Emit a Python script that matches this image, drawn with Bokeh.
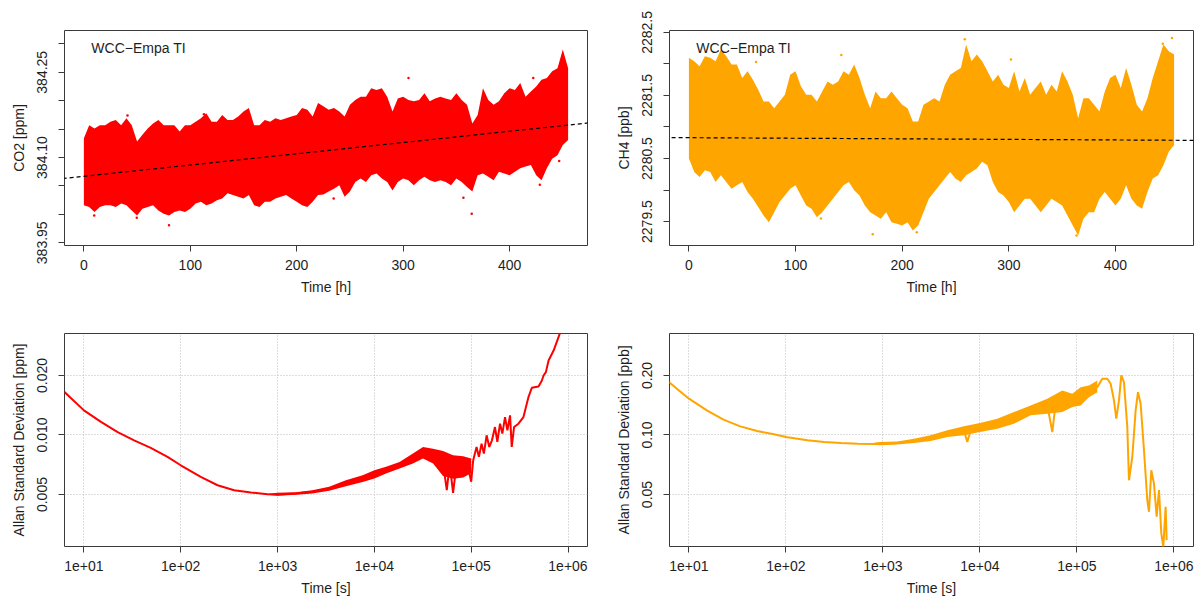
from bokeh.plotting import figure
from bokeh.models import Range1d, FixedTicker, Slope, Label
from bokeh.layouts import row, column
from bokeh.embed import file_html
from bokeh.resources import INLINE

# ---------------- data ----------------
hours = [0, 5, 10, 15, 20, 25, 30, 35, 40, 45, 50, 55, 60, 65, 70, 75, 80, 85, 90, 95,
         100, 105, 110, 115, 120, 125, 130, 135, 140, 145, 150, 155, 160, 165, 170, 175,
         180, 185, 190, 195, 200, 205, 210, 215, 220, 225, 230, 235, 240, 245, 250, 255,
         260, 265, 270, 275, 280, 285, 290, 295, 300, 305, 310, 315, 320, 325, 330, 335,
         340, 345, 350, 355, 360, 365, 370, 375, 380, 385, 390, 395, 400, 405, 410, 415,
         420, 425, 430, 435, 440, 445, 450, 455]

# CO2 [ppm]: upper / lower envelope of the dense point cloud
co2_upper = [384.134, 384.157, 384.151, 384.157, 384.157, 384.163, 384.166, 384.157, 384.169, 384.157,
             384.128, 384.140, 384.151, 384.160, 384.166, 384.157, 384.157, 384.157, 384.146, 384.157,
             384.157, 384.163, 384.169, 384.178, 384.163, 384.163, 384.175, 384.166, 384.166, 384.172,
             384.181, 384.187, 384.157, 384.157, 384.166, 384.163, 384.169, 384.166, 384.169, 384.172,
             384.175, 384.187, 384.184, 384.172, 384.196, 384.190, 384.184, 384.187, 384.181, 384.172,
             384.193, 384.201, 384.207, 384.207, 384.222, 384.219, 384.222, 384.207, 384.181, 384.204,
             384.207, 384.201, 384.199, 384.201, 384.213, 384.199, 384.204, 384.207, 384.204, 384.201,
             384.213, 384.201, 384.193, 384.160, 384.175, 384.222, 384.201, 384.193, 384.199, 384.213,
             384.222, 384.219, 384.231, 384.207, 384.216, 384.225, 384.237, 384.240, 384.252, 384.257,
             384.290, 384.257]
co2_lower = [384.016, 384.013, 384.004, 384.013, 384.016, 384.016, 384.013, 384.019, 384.016, 384.007,
             383.998, 384.010, 384.013, 384.016, 384.007, 384.001, 383.998, 384.004, 384.007, 384.004,
             384.010, 384.019, 384.022, 384.016, 384.019, 384.025, 384.028, 384.037, 384.034, 384.031,
             384.028, 384.034, 384.016, 384.013, 384.022, 384.022, 384.028, 384.031, 384.034, 384.028,
             384.022, 384.016, 384.013, 384.022, 384.034, 384.035, 384.040, 384.045, 384.051, 384.031,
             384.040, 384.057, 384.063, 384.057, 384.069, 384.072, 384.063, 384.057, 384.042, 384.057,
             384.063, 384.060, 384.051, 384.060, 384.066, 384.060, 384.057, 384.060, 384.057, 384.051,
             384.063, 384.057, 384.048, 384.040, 384.069, 384.072, 384.066, 384.060, 384.075, 384.072,
             384.069, 384.075, 384.081, 384.084, 384.087, 384.069, 384.060, 384.081, 384.098, 384.104,
             384.122, 384.131]
co2_out_t = [9.7, 49.7, 80.0, 41.0, 112.8, 234.7, 305.0, 356.6, 364.4, 422.2, 428.4, 446.6]
co2_out_v = [383.998, 383.994, 383.981, 384.174, 384.176, 384.028, 384.240, 384.029, 384.001, 384.240,
             384.052, 384.094]
co2_trend_intercept = 384.067   # ppm at t = 0
co2_trend_slope = 0.000198      # ppm per hour

# CH4 [ppb]
ch4_upper = [2282.096, 2282.043, 2281.963, 2282.122, 2282.096, 2282.043, 2282.229, 2282.122, 2281.989, 2281.989,
             2281.777, 2281.883, 2281.750, 2281.590, 2281.404, 2281.404, 2281.298, 2281.404, 2281.511, 2281.830,
             2281.883, 2281.644, 2281.511, 2281.511, 2281.404, 2281.564, 2281.723, 2281.670, 2281.723, 2281.883,
             2281.830, 2281.989, 2281.777, 2281.511, 2281.298, 2281.564, 2281.457, 2281.457, 2281.564, 2281.457,
             2281.351, 2281.298, 2281.085, 2281.085, 2281.351, 2281.404, 2281.457, 2281.404, 2281.670, 2281.830,
             2281.883, 2281.936, 2282.309, 2282.043, 2282.149, 2282.043, 2281.883, 2281.723, 2281.830, 2281.670,
             2281.617, 2281.883, 2281.564, 2281.777, 2281.511, 2281.617, 2281.723, 2281.511, 2281.670, 2281.564,
             2281.883, 2281.723, 2281.511, 2281.138, 2281.457, 2281.457, 2281.351, 2281.245, 2281.564, 2281.777,
             2281.830, 2281.617, 2281.936, 2281.670, 2281.351, 2281.245, 2281.457, 2281.777, 2282.043, 2282.309,
             2282.202, 2282.149]
ch4_lower = [2280.500, 2280.287, 2280.207, 2280.314, 2280.287, 2280.128, 2280.234, 2280.128, 2280.021, 2280.074,
             2280.128, 2279.968, 2279.862, 2279.729, 2279.596, 2279.489, 2279.649, 2279.809, 2279.915, 2280.021,
             2280.074, 2279.915, 2279.755, 2279.702, 2279.569, 2279.649, 2279.755, 2279.862, 2279.968, 2280.074,
             2280.128, 2279.995, 2279.915, 2279.755, 2279.649, 2279.596, 2279.543, 2279.649, 2279.489, 2279.463,
             2279.436, 2279.489, 2279.356, 2279.436, 2279.649, 2279.862, 2279.968, 2280.074, 2280.181, 2280.287,
             2280.181, 2280.128, 2280.234, 2280.287, 2280.340, 2280.447, 2280.394, 2280.128, 2279.968, 2279.915,
             2279.809, 2279.649, 2279.755, 2279.862, 2279.862, 2279.755, 2279.649, 2279.755, 2279.862, 2279.809,
             2279.755, 2279.596, 2279.436, 2279.277, 2279.543, 2279.649, 2279.649, 2279.862, 2279.968, 2279.862,
             2279.755, 2279.862, 2280.074, 2279.862, 2279.755, 2279.702, 2279.968, 2280.181, 2280.234, 2280.394,
             2280.606, 2280.713]
ch4_out_t = [62.9, 123.8, 142.9, 172.4, 213.7, 258.7, 302.0, 363.5, 444.4, 453.0]
ch4_out_v = [2282.03, 2279.55, 2282.14, 2279.30, 2279.33, 2282.39, 2282.07, 2279.28, 2282.32, 2282.41]
ch4_trend_intercept = 2280.83   # ppb at t = 0
ch4_trend_slope = -0.00009      # ppb per hour

# Allan standard deviation, CO2 [ppm] vs averaging time [s]
co2_tau = [6.3, 10, 15, 22.3, 33, 49, 73, 100, 161, 240, 356, 531, 789, 1000, 1540, 2290, 3410, 5080,
           7570, 10000, 13200, 18200, 25000, 31800, 36000, 40400, 46000, 51200, 56000, 60000, 65000,
           70000, 76000, 82600, 90000, 100000, 104900, 113600, 120100, 128000, 135300, 144300, 153800,
           163900, 176100, 186200, 198500, 209800, 223700, 236500, 252000, 262300, 277300, 307600,
           346700, 390600, 423000, 496100, 537200, 559000, 590900, 630100, 710000, 832500]
co2_adev = [0.01648, 0.01332, 0.01164, 0.01035, 0.0094, 0.0086, 0.00775, 0.00703, 0.00614, 0.00557,
            0.00526, 0.00512, 0.00502, 0.00500, 0.00506, 0.00516, 0.00536, 0.00568, 0.00602, 0.00633,
            0.00663, 0.00703, 0.00760, 0.00821, 0.00820, 0.00790, 0.00745, 0.00717, 0.00526, 0.00717,
            0.00510, 0.00690, 0.00703, 0.00663, 0.00745, 0.00580, 0.00745, 0.00870, 0.00775, 0.00904,
            0.00805, 0.00996, 0.00870, 0.00940, 0.01097, 0.00922, 0.01141, 0.01016, 0.01232, 0.01056,
            0.01257, 0.00870, 0.01097, 0.01141, 0.01232, 0.01555, 0.01733, 0.01760, 0.01887, 0.02000,
            0.02079, 0.02380, 0.02673, 0.03308]
co2_band_tau = [789, 1000, 1540, 2290, 3410, 5080, 7570, 10000, 13200, 18200, 25000, 31800, 40400,
                51200, 65000, 82600, 100000]
co2_band_hi = [0.00505, 0.00510, 0.00514, 0.00526, 0.00547, 0.00590, 0.00625, 0.00663, 0.00690,
               0.00731, 0.00805, 0.00870, 0.00853, 0.00830, 0.00790, 0.00780, 0.00760]
co2_band_lo = [0.00498, 0.00493, 0.00498, 0.00506, 0.00522, 0.00551, 0.00579, 0.00602, 0.00638,
               0.00676, 0.00717, 0.00760, 0.00717, 0.00620, 0.00600, 0.00610, 0.00640]

# Allan standard deviation, CH4 [ppb]
ch4_tau = [6.2, 10, 15.3, 22.7, 33.8, 50.4, 75.1, 100, 166.5, 248, 369, 550, 819, 946, 1405, 2088,
           3100, 4605, 6839, 7400, 8000, 10000, 15090, 22410, 33300, 49450, 55700, 60000, 70620,
           89530, 109100, 132900, 162000, 182500, 205500, 222400, 240700, 254400, 271000, 286400,
           305100, 330300, 343600, 371900, 402600, 425600, 453400, 490700, 530900, 552600, 583900,
           622200, 662900, 700600, 740400, 776200, 820600, 840400]
ch4_adev = [0.1851, 0.1526, 0.1331, 0.1195, 0.1106, 0.1047, 0.1008, 0.0977, 0.0940, 0.0922, 0.0911,
            0.0904, 0.0901, 0.0904, 0.0911, 0.0933, 0.0958, 0.1016, 0.1056, 0.0922, 0.1050, 0.1097,
            0.1140, 0.1232, 0.1331, 0.1411, 0.1035, 0.1420, 0.1496, 0.1496, 0.1554, 0.1647, 0.1746,
            0.1924, 0.1924, 0.1815, 0.1496, 0.1209, 0.1496, 0.2000, 0.1851, 0.1097, 0.0590, 0.0774,
            0.1331, 0.1647, 0.1439, 0.0837, 0.0468, 0.0409, 0.0663, 0.0568, 0.0386, 0.0526, 0.0318,
            0.0272, 0.0433, 0.0294]
ch4_band_tau = [819, 946, 1405, 2088, 3100, 4605, 6839, 10000, 15090, 22410, 33300, 49450, 70620,
                89530, 109100, 132900, 162000]
ch4_band_hi = [0.0915, 0.0922, 0.0926, 0.0958, 0.0996, 0.1056, 0.1106, 0.1149, 0.1209, 0.1306,
               0.1411, 0.1526, 0.1680, 0.1616, 0.1746, 0.1780, 0.1887]
ch4_band_lo = [0.0890, 0.0887, 0.0894, 0.0911, 0.0933, 0.0977, 0.0996, 0.1035, 0.1076, 0.1140,
               0.1257, 0.1281, 0.1306, 0.1384, 0.1411, 0.1554, 0.1647]

# axis ticks
hour_ticks = [0, 100, 200, 300, 400]
co2_yticks = [383.95, 384.00, 384.05, 384.10, 384.15, 384.20, 384.25, 384.30]
co2_ylabels = ["383.95", "", "", "384.10", "", "", "384.25", ""]
ch4_yticks = [2279.5, 2280.0, 2280.5, 2281.0, 2281.5, 2282.0, 2282.5]
ch4_ylabels = ["2279.5", "", "2280.5", "", "2281.5", "", "2282.5"]
tau_ticks = [10, 100, 1000, 10000, 100000, 1000000]
tau_labels = ["1e+01", "1e+02", "1e+03", "1e+04", "1e+05", "1e+06"]
co2_adev_ticks = [0.005, 0.010, 0.020]
co2_adev_labels = ["0.005", "0.010", "0.020"]
ch4_adev_ticks = [0.05, 0.10, 0.20]
ch4_adev_labels = ["0.05", "0.10", "0.20"]

RED = "#ff0000"
ORANGE = "#ffa500"
FONT = "Liberation Sans"
TXT = "#1e1e1e"
FS = "14px"


def style(p, xlab, ylab, xt, xl, yt, yl):
    p.outline_line_color = "#3a3a3a"
    p.outline_line_width = 1
    p.background_fill_color = "white"
    p.border_fill_color = "white"
    for ax in (p.xaxis[0], p.yaxis[0]):
        ax.axis_line_color = None
        ax.major_tick_line_color = "#3a3a3a"
        ax.major_tick_out = 6
        ax.major_tick_in = 0
        ax.minor_tick_line_color = None
        ax.major_label_text_font = FONT
        ax.major_label_text_font_size = FS
        ax.major_label_text_color = TXT
        ax.axis_label_text_font = FONT
        ax.axis_label_text_font_size = FS
        ax.axis_label_text_font_style = "normal"
        ax.axis_label_text_color = TXT
    xa, ya = p.xaxis[0], p.yaxis[0]
    xa.axis_label = xlab
    ya.axis_label = ylab
    xa.ticker = FixedTicker(ticks=xt)
    xa.major_label_overrides = {t: s for t, s in zip(xt, xl)}
    ya.ticker = FixedTicker(ticks=yt)
    ya.major_label_overrides = {t: s for t, s in zip(yt, yl)}
    ya.major_label_orientation = "vertical"
    xa.major_label_standoff = 8
    xa.axis_label_standoff = 6
    ya.major_label_standoff = 11
    ya.axis_label_standoff = 8


def top_panel(upper, lower, out_t, out_v, color, yr, ylab, yt, yl, icpt, slope, lab_y, w, bl, br):
    p = figure(width=w, height=315, x_range=Range1d(-18.2, 473.2), y_range=Range1d(*yr),
               output_backend="svg", toolbar_location=None,
               min_border_left=bl, min_border_right=br, min_border_top=30, min_border_bottom=70)
    style(p, "Time [h]", ylab, hour_ticks, [str(v) for v in hour_ticks], yt, yl)
    p.grid.visible = False
    p.varea(x=hours, y1=lower, y2=upper, fill_color=color, fill_alpha=1.0)
    p.scatter(x=out_t, y=out_v, size=2.5, color=color, line_width=0)
    p.add_layout(Slope(gradient=slope, y_intercept=icpt, line_color="black",
                       line_width=1.2, line_dash="4 3"))
    p.add_layout(Label(x=7, y=lab_y, text="WCC\u2212Empa TI", text_baseline="middle",
                       text_align="left", text_font=FONT, text_font_size=FS, text_color=TXT))
    return p


def bottom_panel(tau, adev, btau, blo, bhi, color, yr, ylab, yt, yl, w, bl, br):
    p = figure(width=w, height=285, x_axis_type="log", y_axis_type="log",
               x_range=Range1d(6.3, 1.59e6), y_range=Range1d(*yr),
               output_backend="svg", toolbar_location=None,
               min_border_left=bl, min_border_right=br, min_border_top=18, min_border_bottom=54)
    style(p, "Time [s]", ylab, tau_ticks, tau_labels, yt, yl)
    for g, t in ((p.xgrid[0], tau_ticks), (p.ygrid[0], yt)):
        g.ticker = FixedTicker(ticks=t)
        g.grid_line_color = "#bdbdbd"
        g.grid_line_dash = "1 2"
        g.grid_line_width = 1
    p.varea(x=btau, y1=blo, y2=bhi, fill_color=color, fill_alpha=1.0)
    p.line(x=tau, y=adev, line_color=color, line_width=2)
    return p


p1 = top_panel(co2_upper, co2_lower, co2_out_t, co2_out_v, RED, (383.9452, 384.3235),
               "CO2 [ppm]", co2_yticks, co2_ylabels, co2_trend_intercept, co2_trend_slope,
               384.293, 612, 64, 25)
p2 = top_panel(ch4_upper, ch4_lower, ch4_out_t, ch4_out_v, ORANGE, (2279.12, 2282.53),
               "CH4 [ppb]", ch4_yticks, ch4_ylabels, ch4_trend_intercept, ch4_trend_slope,
               2282.255, 583, 57, 2)
p3 = bottom_panel(co2_tau, co2_adev, co2_band_tau, co2_band_lo, co2_band_hi, RED,
                  (0.00273, 0.0326), "Allan Standard Deviation [ppm]",
                  co2_adev_ticks, co2_adev_labels, 612, 64, 25)
p4 = bottom_panel(ch4_tau, ch4_adev, ch4_band_tau, ch4_band_lo, ch4_band_hi, ORANGE,
                  (0.0273, 0.326), "Allan Standard Deviation [ppb]",
                  ch4_adev_ticks, ch4_adev_labels, 583, 57, 2)

layout = column(row(p1, p2, spacing=0), row(p3, p4, spacing=0), spacing=0)

open("out.html", "w").write(file_html(layout, INLINE))
